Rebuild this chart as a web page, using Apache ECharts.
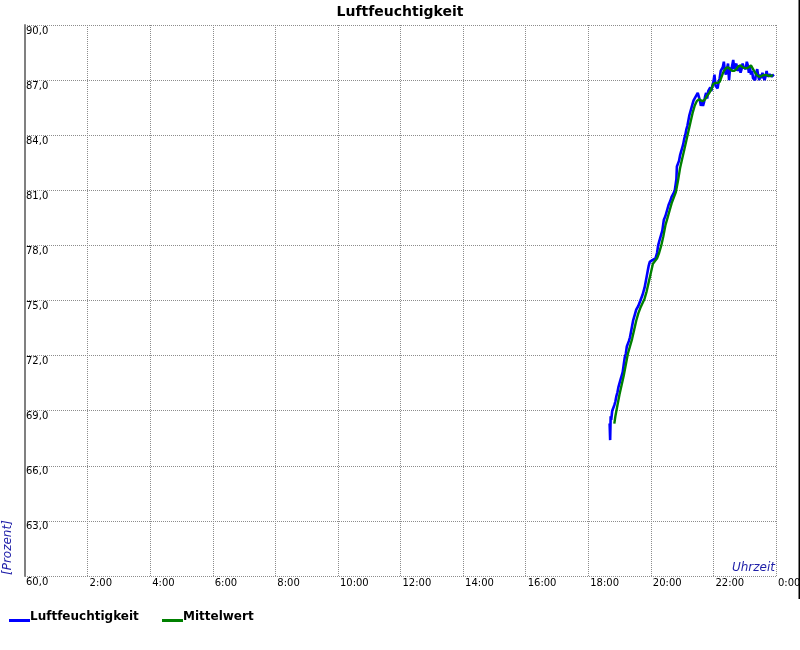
<!DOCTYPE html>
<html><head><meta charset="utf-8">
<script src="https://cdn.jsdelivr.net/npm/echarts@6/dist/echarts.min.js"></script>
<style>html,body{margin:0;padding:0;background:#fff}#c{width:800px;height:650px}</style>
</head><body><div id="c"></div>
<script>
// Luftfeuchtigkeit (blue) – time "HH:MM" and value [%]
const humTimes = ['18:41','18:42','18:43','18:44','18:46','18:48','18:50','18:52','18:54','18:56','18:58','19:00','19:02','19:04','19:06','19:08','19:10','19:12','19:14','19:16','19:18','19:20','19:22','19:24','19:26','19:28','19:30','19:32','19:34','19:36','19:38','19:40','19:42','19:44','19:46','19:48','19:50','19:52','19:54','19:56','19:58','20:00','20:03','20:06','20:09','20:12','20:14','20:16','20:19','20:22','20:25','20:28','20:31','20:34','20:37','20:40','20:43','20:46','20:48','20:49','20:50','20:52','20:54','20:56','20:58','21:00','21:02','21:04','21:06','21:08','21:10','21:12','21:14','21:16','21:18','21:20','21:22','21:24','21:26','21:28','21:30','21:32','21:34','21:36','21:38','21:40','21:42','21:44','21:46','21:48','21:50','21:52','21:54','21:56','21:58','22:00','22:02','22:04','22:06','22:08','22:10','22:12','22:14','22:16','22:18','22:20','22:22','22:24','22:26','22:28','22:30','22:32','22:34','22:36','22:38','22:40','22:42','22:44','22:46','22:48','22:50','22:52','22:54','22:56','22:58','23:00','23:02','23:04','23:06','23:08','23:10','23:12','23:14','23:16','23:18','23:20','23:22','23:24','23:26','23:28','23:30','23:32','23:34','23:36','23:38','23:40','23:42','23:44','23:46','23:48','23:50','23:52','23:54','23:56'];
const humValues = [68.3,67.4,68.7,68.5,69.0,68.9,69.3,69.5,69.8,70.0,70.3,70.4,70.7,70.9,71.1,71.5,71.9,72.1,72.5,72.6,72.8,73.0,73.3,73.6,73.9,74.0,74.3,74.5,74.6,74.7,74.8,75.0,75.1,75.3,75.5,75.7,76.0,76.3,76.6,76.9,77.1,77.1,77.2,77.2,77.3,77.6,78.0,78.2,78.3,78.8,79.4,79.6,79.9,80.2,80.4,80.65,80.8,81.0,81.4,81.6,82.3,82.4,82.6,82.9,83.1,83.3,83.5,83.8,84.0,84.3,84.5,84.8,85.1,85.3,85.5,85.7,85.9,85.8,86.1,86.0,86.3,86.2,85.9,85.6,85.8,85.6,85.8,86.1,86.3,86.0,86.4,86.3,86.6,86.4,86.7,86.9,87.3,86.7,86.8,86.55,86.9,87.1,87.5,87.4,87.7,88.0,87.5,87.3,87.6,87.9,87.0,87.7,87.5,87.4,88.1,87.6,87.7,87.9,87.5,87.6,87.8,87.4,87.6,87.9,87.7,87.8,87.6,88.0,87.8,87.4,87.7,87.3,87.5,87.1,87.2,87.0,87.4,87.6,87.2,87.0,87.3,87.1,87.4,87.2,87.0,87.2,87.5,87.2,87.1,87.3,87.4,87.2,87.3,87.3];

// Mittelwert (green)
const avgTimes = ['18:50','18:52','18:56','19:00','19:04','19:08','19:12','19:16','19:20','19:24','19:28','19:32','19:36','19:40','19:44','19:48','19:52','19:56','20:00','20:04','20:08','20:12','20:16','20:20','20:24','20:28','20:32','20:36','20:40','20:44','20:48','20:52','20:56','21:00','21:04','21:08','21:12','21:16','21:20','21:24','21:28','21:32','21:36','21:40','21:44','21:48','21:52','21:56','22:00','22:04','22:08','22:12','22:16','22:20','22:24','22:28','22:32','22:36','22:40','22:44','22:48','22:52','22:56','23:00','23:04','23:08','23:12','23:16','23:20','23:24','23:28','23:32','23:36','23:40','23:44','23:48','23:52','23:54'];
const avgValues = [68.3,68.7,69.3,69.9,70.4,70.9,71.5,72.1,72.5,72.9,73.4,73.9,74.3,74.6,74.85,75.1,75.5,76.0,76.5,77.0,77.15,77.3,77.6,78.0,78.5,79.1,79.5,79.9,80.3,80.6,80.9,81.5,82.2,82.7,83.2,83.7,84.2,84.7,85.2,85.6,85.85,85.95,85.9,85.85,85.95,86.15,86.3,86.5,86.8,86.85,86.85,86.9,87.2,87.5,87.65,87.7,87.6,87.5,87.5,87.6,87.75,87.8,87.7,87.65,87.65,87.7,87.8,87.6,87.4,87.25,87.18,87.22,87.27,87.28,87.25,87.22,87.25,87.27];

const xTickLabels = ['0:00','2:00','4:00','6:00','8:00','10:00','12:00','14:00','16:00','18:00','20:00','22:00','0:00'];
const yMin = 60, yMax = 90, yStep = 3;

function toMin(s){ const p = s.split(':').map(Number); return p[0]*60 + p[1]; }
const humData = humTimes.map((t,i)=>[toMin(t), humValues[i]]);
const avgData = avgTimes.map((t,i)=>[toMin(t), avgValues[i]]);

const FONT = 'DejaVu Sans';
const GRID_COLOR = '#8c8c8c';
const chart = echarts.init(document.getElementById('c'), null, {renderer:'canvas'});
chart.setOption({
  animation: false,
  backgroundColor: '#fff',
  title: {
    text: 'Luftfeuchtigkeit', left: 'center', top: 0,
    textStyle: {fontFamily: FONT, fontSize: 14, fontWeight: 'bold', color: '#000'}
  },
  grid: {left: 25, right: 24, top: 25, bottom: 74, containLabel: false, outerBoundsMode: 'none'},
  xAxis: {
    type: 'value', min: 0, max: 1440, interval: 120,
    axisLine: {show: false}, axisTick: {show: false},
    splitLine: {show: true, showMinLine: true, showMaxLine: true, lineStyle: {color: GRID_COLOR, width: 1, type: [1,1]}},
    axisLabel: {
      show: true, showMinLabel: true, showMaxLabel: true, margin: 2,
      align: 'left', verticalAlign: 'top', fontFamily: FONT, fontSize: 10, color: '#000',
      padding: [0,0,0,2],
      formatter: v => (v === 0 ? '' : xTickLabels[Math.round(v/120)])
    }
  },
  yAxis: {
    type: 'value', min: yMin, max: yMax, interval: yStep,
    axisLine: {show: true, lineStyle: {color: '#808080', width: 2}},
    axisTick: {show: false},
    splitLine: {show: true, showMinLine: true, showMaxLine: true, lineStyle: {color: GRID_COLOR, width: 1, type: [1,1]}},
    axisLabel: {
      show: true, inside: true, margin: 1, showMinLabel: true, showMaxLabel: true,
      align: 'left', verticalAlign: 'top', fontFamily: FONT, fontSize: 10, color: '#000',
      padding: [1,0,0,0],
      formatter: v => v.toFixed(1).replace('.', ',')
    }
  },
  series: [
    {name: 'Luftfeuchtigkeit', type: 'line', data: humData, showSymbol: false,
     lineStyle: {color: '#0000ff', width: 2.6}, itemStyle: {color: '#0000ff'}, z: 2},
    {name: 'Mittelwert', type: 'line', data: avgData, showSymbol: false,
     lineStyle: {color: '#008000', width: 2.4}, itemStyle: {color: '#008000'}, z: 3}
  ],
  graphic: [
    {type: 'text', x: 8, y: 575, rotation: Math.PI/2,
     style: {text: '[Prozent]', font: 'italic 12px "DejaVu Sans"', fill: '#1e1ea8', align: 'left', verticalAlign: 'middle'}},
    {type: 'text', x: 775, y: 567.5,
     style: {text: 'Uhrzeit', font: 'italic 12px "DejaVu Sans"', fill: '#1e1ea8', align: 'right', verticalAlign: 'middle'}},
    {type: 'rect', shape: {x: 9, y: 619, width: 21, height: 3}, style: {fill: '#0000ff'}},
    {type: 'text', x: 30, y: 617, style: {text: 'Luftfeuchtigkeit', font: 'bold 12px "DejaVu Sans"', fill: '#000', align: 'left', verticalAlign: 'middle'}},
    {type: 'rect', shape: {x: 162, y: 619, width: 21, height: 3}, style: {fill: '#008000'}},
    {type: 'text', x: 183, y: 617, style: {text: 'Mittelwert', font: 'bold 12px "DejaVu Sans"', fill: '#000', align: 'left', verticalAlign: 'middle'}},
    {type: 'rect', shape: {x: 798.5, y: 0, width: 1.5, height: 599}, style: {fill: '#000'}}
  ]
});
</script>
</body></html>
